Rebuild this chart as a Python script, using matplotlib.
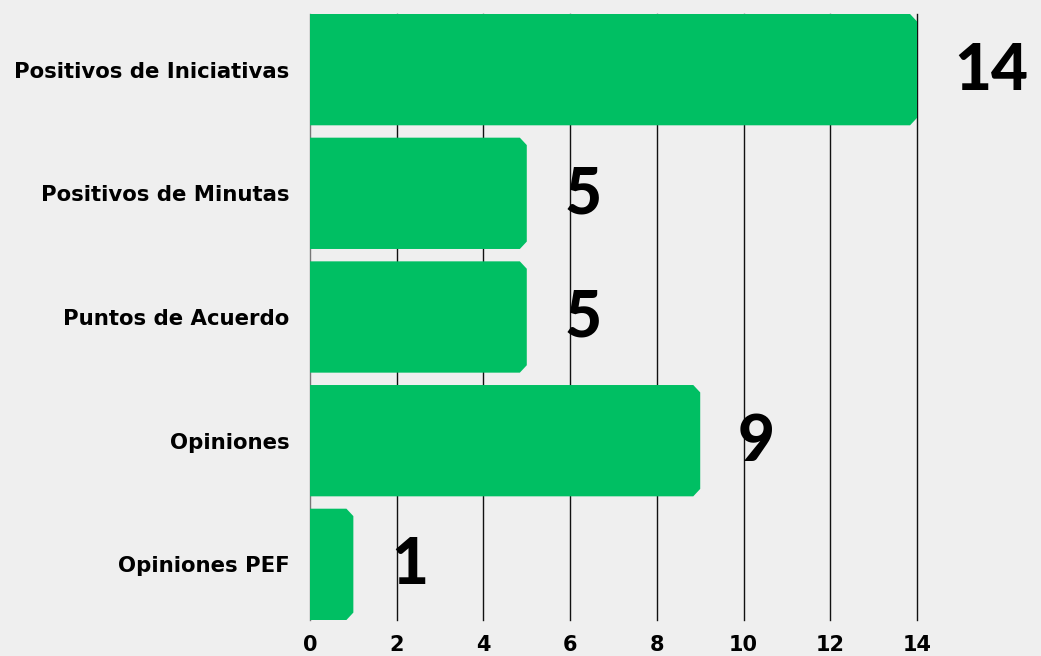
import matplotlib

matplotlib.use("Agg")

import matplotlib.pyplot as plt
from matplotlib.patches import Polygon

CATEGORIES = [
    "Positivos de Iniciativas",
    "Positivos de Minutas",
    "Puntos de Acuerdo",
    "Opiniones",
    "Opiniones PEF",
]
VALUES = [14, 5, 5, 9, 1]
X_TICKS = [0, 2, 4, 6, 8, 10, 12, 14]

BACKGROUND = "#efefef"
GREEN = "#00bf63"
INK = "#000000"
BAR_HEIGHT = 0.9


def chamfered_bar(y, value, height, cut_x, cut_y):
    top = y - height / 2
    bottom = y + height / 2
    return Polygon(
        [
            (0, top),
            (value - cut_x, top),
            (value, top + cut_y),
            (value, bottom - cut_y),
            (value - cut_x, bottom),
            (0, bottom),
        ],
        closed=True,
        facecolor=GREEN,
        edgecolor="none",
        zorder=3,
    )


figure = plt.figure(figsize=(10.41, 6.56), dpi=100, facecolor=BACKGROUND)
axis = figure.add_axes([310 / 1041, 36 / 656, 607 / 1041, 606 / 656])
axis.set_facecolor(BACKGROUND)

for index, value in enumerate(VALUES):
    axis.add_patch(chamfered_bar(index, value, BAR_HEIGHT, 0.16, 0.06))
    axis.annotate(
        str(value),
        (value, index),
        textcoords="offset points",
        xytext=(27, -1),
        ha="left",
        va="center",
        fontsize=46,
        fontweight="black",
        family="Lato",
        color=INK,
        annotation_clip=False,
    )

axis.set_xlim(0, 14)
axis.set_ylim(len(VALUES) - 0.5 - (1 - BAR_HEIGHT) / 2, -0.5 + (1 - BAR_HEIGHT) / 2)
axis.set_xticks(X_TICKS)
axis.set_xticklabels([str(t) for t in X_TICKS], fontsize=15, fontweight="bold")
axis.set_yticks(range(len(CATEGORIES)))
axis.set_yticklabels(CATEGORIES, fontsize=15.3, fontweight="bold")
axis.tick_params(axis="both", length=0, colors=INK)
axis.tick_params(axis="y", pad=15)
axis.tick_params(axis="x", pad=11)

for tick in X_TICKS:
    axis.axvline(
        tick,
        color="#777777" if tick == 0 else "#111111",
        linewidth=1,
        zorder=1,
        clip_on=False,
    )

for spine in axis.spines.values():
    spine.set_visible(False)

figure.savefig("out.png", dpi=100, facecolor=BACKGROUND)
